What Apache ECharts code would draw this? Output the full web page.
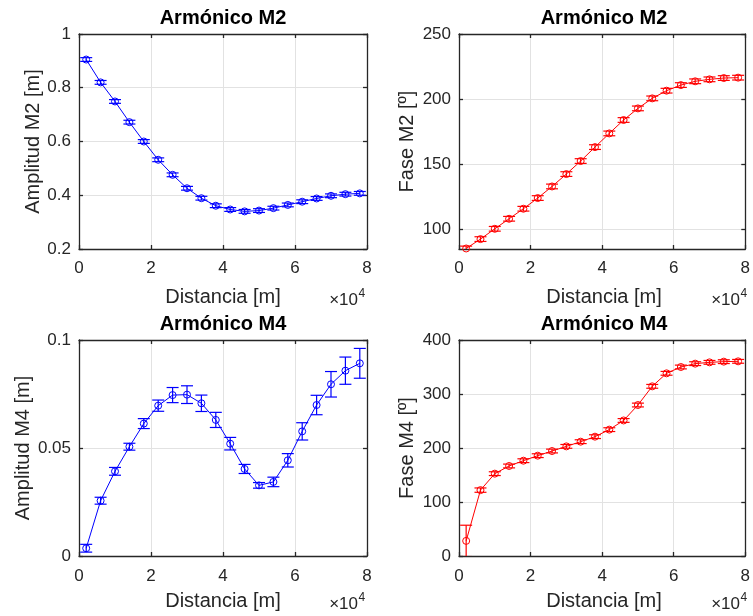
<!DOCTYPE html>
<html><head><meta charset="utf-8">
<script src="https://cdn.jsdelivr.net/npm/echarts@6/dist/echarts.min.js"></script>
<style>html,body{margin:0;padding:0;background:#fff}#c{width:753px;height:616px}</style>
</head><body><div id="c"></div>
<script>
// ---- data ----
var distancia = [2000, 6000, 10000, 14000, 18000, 22000, 26000, 30000, 34000, 38000,
                 42000, 46000, 50000, 54000, 58000, 62000, 66000, 70000, 74000, 78000];
var xTicks = [0, 20000, 40000, 60000, 80000];

var ampM2 = [0.905, 0.820, 0.749, 0.672, 0.600, 0.532, 0.476, 0.426, 0.389, 0.361,
             0.347, 0.340, 0.343, 0.352, 0.364, 0.376, 0.388, 0.398, 0.404, 0.407];
var ampM2Err = [0.007, 0.007, 0.007, 0.007, 0.007, 0.007, 0.007, 0.007, 0.007, 0.007,
                0.007, 0.007, 0.007, 0.007, 0.007, 0.007, 0.007, 0.007, 0.007, 0.007];
var ampM2Ticks = [0.2, 0.4, 0.6, 0.8, 1];

var faseM2 = [85.4, 92.6, 100.5, 108.2, 115.9, 124.1, 133.0, 142.5, 152.5, 163.2,
              173.7, 184.0, 192.9, 200.6, 206.5, 210.8, 213.7, 215.2, 216.2, 216.5];
var faseM2Err = [1.8, 1.8, 1.8, 1.8, 1.8, 1.8, 1.8, 1.8, 1.8, 1.8,
                 1.8, 1.8, 1.8, 1.8, 1.8, 1.8, 1.8, 1.8, 1.8, 1.8];
var faseM2Ticks = [100, 150, 200, 250];

var ampM4 = [0.0036, 0.0256, 0.0392, 0.0506, 0.0613, 0.0696, 0.0745, 0.0747, 0.0707, 0.0630,
             0.0520, 0.0403, 0.0327, 0.0343, 0.0443, 0.0577, 0.0699, 0.0795, 0.0858, 0.0892];
var ampM4Err = [0.0018, 0.0016, 0.0018, 0.0016, 0.0023, 0.0026, 0.0035, 0.0041, 0.0038, 0.0035,
                0.0029, 0.0021, 0.0013, 0.0022, 0.0031, 0.0040, 0.0045, 0.0059, 0.0063, 0.0069];
var ampM4Ticks = [0, 0.05, 0.1];

var faseM4 = [28, 122, 152.5, 166.7, 176.5, 185.8, 194.4, 203, 211.7, 221,
              234, 251, 279.6, 314.2, 338.3, 350, 356.2, 358.6, 359.9, 360.5];
var faseM4Err = [29, 4, 3.5, 3.5, 3.5, 3.5, 3.5, 3.5, 3.5, 3.5,
                 3.5, 3.5, 3.5, 3.5, 3.5, 3.5, 3.5, 3.5, 3.5, 3.5];
var faseM4Ticks = [0, 100, 200, 300, 400];

var titles = ['Armónico M2', 'Armónico M2', 'Armónico M4', 'Armónico M4'];
var yLabels = ['Amplitud M2 [m]', 'Fase M2 [º]', 'Amplitud M4 [m]', 'Fase M4 [º]'];
var xLabel = 'Distancia [m]';

// ---- layout ----
var FONT = 'Liberation Sans, Arial, Helvetica, sans-serif';
var AX = '#262626';
var grids = [
  {left: 79, top: 34, width: 288, height: 215},
  {left: 459, top: 34, width: 290, height: 215},
  {left: 79, top: 340, width: 288, height: 216},
  {left: 459, top: 340, width: 290, height: 216}
];
var yConf = [
  {min: 0.2, max: 1, ticks: ampM2Ticks},
  {min: 85, max: 250, ticks: faseM2Ticks},
  {min: 0, max: 0.1, ticks: ampM4Ticks},
  {min: 0, max: 400, ticks: faseM4Ticks}
];
var panels = [
  {y: ampM2, e: ampM2Err, color: '#0000ff'},
  {y: faseM2, e: faseM2Err, color: '#ff0000'},
  {y: ampM4, e: ampM4Err, color: '#0000ff'},
  {y: faseM4, e: faseM4Err, color: '#ff0000'}
];
var xLabOff = [48, 48, 45, 45];
var xTickMargin = [11, 11, 12, 12];

var xAxes = [], yAxes = [], series = [], graphics = [];
grids.forEach(function (g, i) {
  var common = {gridIndex: i, min: 0, max: 80000, interval: 20000};
  xAxes.push(Object.assign({}, common, {
    type: 'value', position: 'bottom',
    axisLine: {show: true, onZero: false, lineStyle: {color: AX, width: 1.3}},
    axisTick: {show: true, inside: true, length: 4, lineStyle: {color: AX, width: 1.3}},
    axisLabel: {show: true, margin: xTickMargin[i], color: AX, fontFamily: FONT, fontSize: 17,
      formatter: function (v) { return String(v / 10000); }},
    splitLine: {show: true, lineStyle: {color: '#e2e2e2', width: 1}}
  }));
  xAxes.push(Object.assign({}, common, {
    type: 'value', position: 'top',
    axisLine: {show: true, onZero: false, lineStyle: {color: AX, width: 1.3}},
    axisTick: {show: true, inside: true, length: 4, lineStyle: {color: AX, width: 1.3}},
    axisLabel: {show: false}, splitLine: {show: false}
  }));
  var yc = yConf[i];
  var yCommon = {gridIndex: i, min: yc.min, max: yc.max, type: 'value'};
  yAxes.push(Object.assign({}, yCommon, {
    position: 'left',
    axisLine: {show: true, onZero: false, lineStyle: {color: AX, width: 1.3}},
    axisTick: {show: true, inside: true, length: 4, customValues: yc.ticks, lineStyle: {color: AX, width: 1.3}},
    axisLabel: {show: true, margin: 8, color: AX, fontFamily: FONT, fontSize: 17, customValues: yc.ticks,
      formatter: function (v) { return String(Math.round(v * 1000) / 1000); }},
    splitLine: {show: true, lineStyle: {color: '#e2e2e2', width: 1}}
  }));
  yAxes.push(Object.assign({}, yCommon, {
    position: 'right',
    axisLine: {show: true, onZero: false, lineStyle: {color: AX, width: 1.3}},
    axisTick: {show: true, inside: true, length: 4, customValues: yc.ticks, lineStyle: {color: AX, width: 1.3}},
    axisLabel: {show: false}, splitLine: {show: false}
  }));

  var p = panels[i];
  var lineData = distancia.map(function (x, k) { return [x, p.y[k]]; });
  var errData = distancia.map(function (x, k) { return [x, p.y[k] - p.e[k], p.y[k] + p.e[k]]; });
  series.push({
    type: 'custom', xAxisIndex: 2 * i, yAxisIndex: 2 * i, data: errData, clip: true, z: 3,
    renderItem: (function (col) {
      return function (params, api) {
        var lo = api.coord([api.value(0), api.value(1)]);
        var hi = api.coord([api.value(0), api.value(2)]);
        var w = 6;
        var st = {stroke: col, lineWidth: 1.2};
        return {type: 'group', children: [
          {type: 'line', shape: {x1: lo[0], y1: lo[1], x2: hi[0], y2: hi[1]}, style: st},
          {type: 'line', shape: {x1: lo[0] - w, y1: lo[1], x2: lo[0] + w, y2: lo[1]}, style: st},
          {type: 'line', shape: {x1: hi[0] - w, y1: hi[1], x2: hi[0] + w, y2: hi[1]}, style: st}
        ]};
      };
    })(p.color)
  });
  series.push({
    type: 'line', xAxisIndex: 2 * i, yAxisIndex: 2 * i, data: lineData, z: 4,
    symbol: 'circle', symbolSize: 7, showSymbol: true, animation: false,
    lineStyle: {color: p.color, width: 1},
    itemStyle: {color: 'rgba(0,0,0,0)', borderColor: p.color, borderWidth: 1}
  });

  var cx = g.left + g.width / 2;
  var bottom = g.top + g.height;
  var right = g.left + g.width;
  graphics.push({type: 'text', x: cx, y: g.top - 16, style: {text: titles[i], font: 'bold 20px ' + FONT,
    fill: '#000', align: 'center', verticalAlign: 'middle'}});
  graphics.push({type: 'text', x: cx, y: bottom + xLabOff[i], style: {text: xLabel, font: '20px ' + FONT,
    fill: AX, align: 'center', verticalAlign: 'middle'}});
  graphics.push({type: 'text', x: right - 9, y: bottom + xLabOff[i] + 3, style: {text: '×10', font: '17px ' + FONT,
    fill: AX, align: 'right', verticalAlign: 'middle'}});
  graphics.push({type: 'text', x: right - 8.5, y: bottom + xLabOff[i] - 3, style: {text: '4', font: '12px ' + FONT,
    fill: AX, align: 'left', verticalAlign: 'middle'}});
  var ylx = [33, 407, 23, 407][i];
  graphics.push({type: 'text', x: ylx, y: g.top + g.height / 2, rotation: Math.PI / 2,
    style: {text: yLabels[i], font: '20px ' + FONT, fill: AX, align: 'center', verticalAlign: 'middle'}});
});

var chart = echarts.init(document.getElementById('c'), null, {renderer: 'canvas'});
chart.setOption({
  animation: false,
  backgroundColor: '#ffffff',
  grid: grids.map(function (g) { return Object.assign({containLabel: false}, g); }),
  xAxis: xAxes, yAxis: yAxes, series: series, graphic: graphics
});
</script></body></html>
